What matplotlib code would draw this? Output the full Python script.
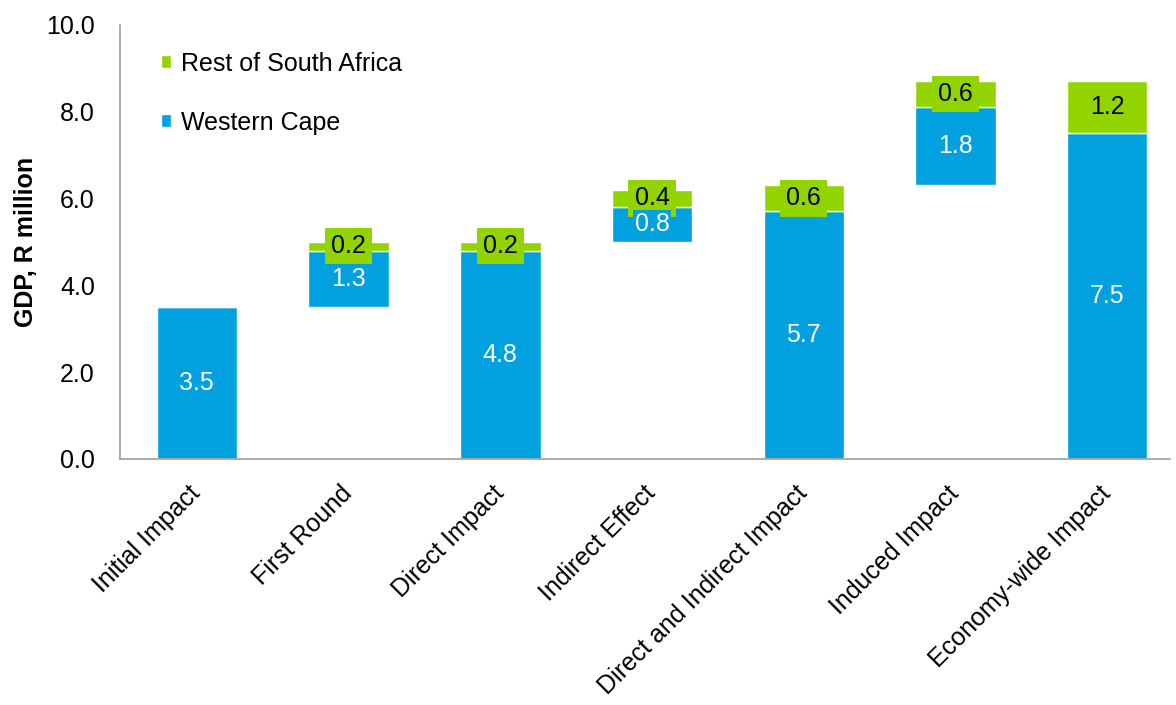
import numpy as np
import matplotlib.pyplot as plt

plt.rcParams['font.family'] = ['Liberation Sans', 'DejaVu Sans']

# waterfall data, R million
categories = ['Initial Impact', 'First Round', 'Direct Impact', 'Indirect Effect',
              'Direct and Indirect Impact', 'Induced Impact', 'Economy-wide Impact']
base = [0.0, 3.5, 0.0, 5.0, 0.0, 6.3, 0.0]
western_cape = [3.5, 1.3, 4.8, 0.8, 5.7, 1.8, 7.5]
rest_of_sa = [0.0, 0.2, 0.2, 0.4, 0.6, 0.6, 1.2]

blue = '#00A1DE'
green = '#92D400'

fig = plt.figure(figsize=(11.76, 7.05), dpi=100)
ax = fig.add_axes([0.102, 0.349, 0.893, 0.616])

x = np.arange(len(categories))
w = 0.53
ax.bar(x, western_cape, w, bottom=base, color=blue, edgecolor='white',
       linewidth=1, label='Western Cape')
rsa_bottom = np.array(base) + np.array(western_cape)
ax.bar(x, rest_of_sa, w, bottom=rsa_bottom, color=green, edgecolor='white',
       linewidth=1, label='Rest of South Africa')

# value labels with filled boxes; blue ones sit on top of green ones
for i in range(len(categories)):
    ax.text(x[i], base[i] + western_cape[i] / 2, '%.1f' % western_cape[i],
            ha='center', va='center', color='white', fontsize=18, zorder=6,
            bbox=dict(boxstyle='square,pad=0.08', fc=blue, ec='none'))
    if rest_of_sa[i] > 0:
        ax.text(x[i], rsa_bottom[i] + rest_of_sa[i] / 2, '%.1f' % rest_of_sa[i],
                ha='center', va='center', color='black', fontsize=18, zorder=5,
                bbox=dict(boxstyle='square,pad=0.25', fc=green, ec='none'))

ax.set_ylim(0, 10)
ax.set_xlim(-0.507, 6.415)
ax.set_yticks(np.arange(0, 10.1, 2))
ax.set_yticklabels(['%.1f' % v for v in np.arange(0, 10.1, 2)])
ax.set_xticks(x)
ax.set_xticklabels(categories, rotation=45, ha='right', va='center', rotation_mode='anchor')
ax.tick_params(axis='both', length=0, labelsize=18)
ax.tick_params(axis='x', pad=22)
ax.tick_params(axis='y', pad=18)
ax.set_ylabel('GDP, R million', fontsize=18, fontweight='bold', labelpad=6)

for s in ['top', 'right']:
    ax.spines[s].set_visible(False)
for s in ['left', 'bottom']:
    ax.spines[s].set_color('#A6A6A6')
    ax.spines[s].set_linewidth(1.3)

handles, labels = ax.get_legend_handles_labels()
ax.legend(handles[::-1], labels[::-1], loc='upper left', bbox_to_anchor=(0.018, 0.99),
          frameon=False, fontsize=18, handlelength=0.4, handleheight=0.4,
          handletextpad=0.4, labelspacing=1.4)

fig.savefig('out.png', dpi=100)
